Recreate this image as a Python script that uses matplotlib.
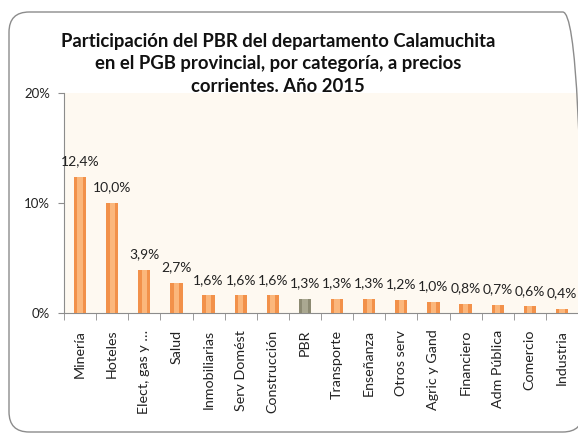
import matplotlib
matplotlib.use("Agg")
import matplotlib.pyplot as plt
from matplotlib.patches import FancyBboxPatch
from matplotlib.ticker import FuncFormatter, FixedLocator

plt.rcParams["font.family"] = ["Lato", "DejaVu Sans"]

# Data
categorias = [
    "Minería", "Hoteles", "Elect, gas y …", "Salud", "Inmobiliarias",
    "Serv Domést", "Construcción", "PBR", "Transporte", "Enseñanza",
    "Otros serv", "Agric y Gand", "Financiero", "Adm Pública", "Comercio",
    "Industria",
]
participacion = [12.4, 10.0, 3.9, 2.7, 1.6, 1.6, 1.6, 1.3, 1.3, 1.3, 1.2,
                 1.0, 0.8, 0.7, 0.6, 0.4]
destacado = "PBR"

titulo = ("Participación del PBR del departamento Calamuchita\n"
          "en el PGB provincial, por categoría, a precios\n"
          "corrientes. Año 2015")

W, H = 578, 438
fig = plt.figure(figsize=(W / 100, H / 100), dpi=100)
fig.patch.set_facecolor("white")

# outer rounded frame (runs off the right edge like the original)
frame = FancyBboxPatch(
    (9 / W, 6 / H), 574 / W, 420 / H,
    boxstyle="round,pad=0,rounding_size=0.035",
    transform=fig.transFigure, facecolor="none", edgecolor="#8c8c8c",
    linewidth=1.0, mutation_aspect=W / H, zorder=5,
)
fig.patches.append(frame)

ax = fig.add_axes([64 / W, 1 - 313 / H, (W - 64) / W, 220 / H])
ax.set_facecolor("#fef9f1")

x = range(len(categorias))
colores = ["#8c8a72" if c == destacado else "#f2914a" for c in categorias]
brillos = ["#aaa891" if c == destacado else "#fbb77c" for c in categorias]
ax.bar(x, participacion, width=0.38, color=colores, linewidth=0, zorder=3)
# lighter middle strip, a rough stand-in for the shaded Excel bars
ax.bar(x, participacion, width=0.16, color=brillos, linewidth=0, zorder=4)

for xi, v in zip(x, participacion):
    ax.annotate(f"{v:.1f}%".replace(".", ","), (xi, v),
                xytext=(0, 7), textcoords="offset points",
                ha="center", va="bottom", fontsize=10, color="#222222")

ax.set_xlim(-0.5, len(categorias) - 0.5)
ax.set_ylim(0, 20)
ax.set_yticks([0, 10, 20])
ax.yaxis.set_major_formatter(FuncFormatter(lambda v, p: f"{v:.0f}%"))
ax.tick_params(axis="y", length=4, color="#8c8c8c", labelsize=9.5,
               labelcolor="#222222", pad=6)

ax.set_xticks(list(x))
ax.set_xticklabels(categorias, rotation=90, fontsize=10.3, color="#222222")
ax.tick_params(axis="x", length=0, pad=12)
ax.xaxis.set_minor_locator(FixedLocator([i - 0.5 for i in range(len(categorias) + 1)]))
ax.tick_params(axis="x", which="minor", length=5, color="#8c8c8c")

for s in ["top", "right"]:
    ax.spines[s].set_visible(False)
for s in ["left", "bottom"]:
    ax.spines[s].set_color("#8c8c8c")

fig.text(278 / W, 1 - 64 / H, titulo, ha="center", va="center",
         fontsize=13.3, fontweight="bold", color="#111111", linespacing=1.38)

fig.savefig("out.png", dpi=100)
